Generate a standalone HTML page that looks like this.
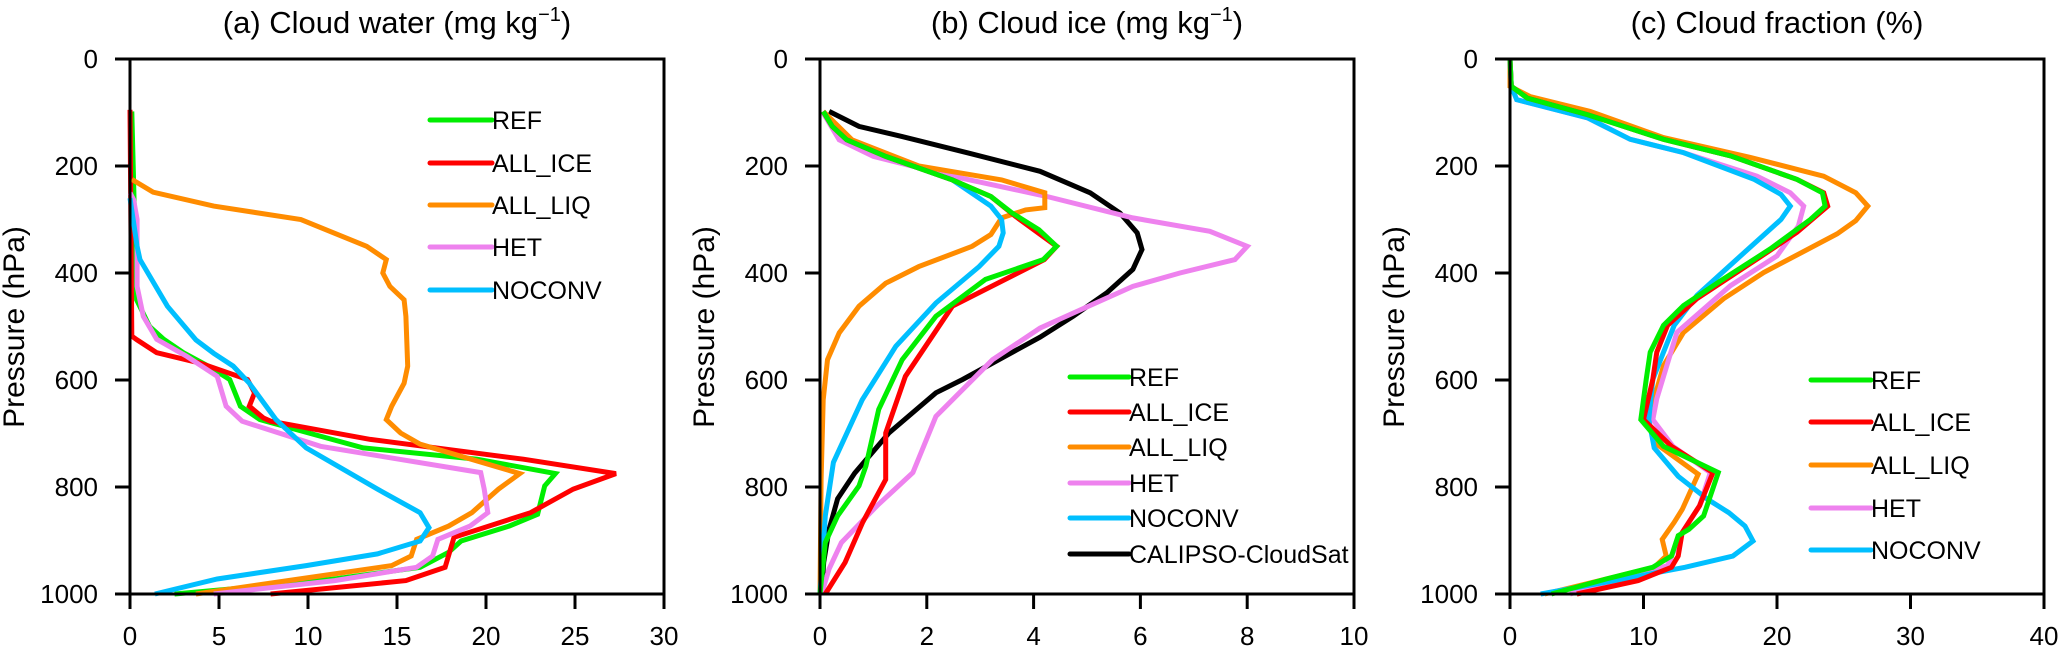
<!DOCTYPE html>
<html><head><meta charset="utf-8"><style>
html,body{margin:0;padding:0;background:#fff;}
svg{display:block;font-family:"Liberation Sans",Arial,sans-serif;}
</style></head><body>
<svg id="chart" width="2067" height="653" viewBox="0 0 2067 653" xmlns="http://www.w3.org/2000/svg"></svg>
<script>
// ---------- Data ----------
const seriesNames = ["REF","ALL_ICE","ALL_LIQ","HET","NOCONV","CALIPSO-CloudSat"];
const seriesColors = ["#00ee00","#ff0000","#ff8c00","#ee82ee","#00bfff","#000000"];
const yTicks = [0,200,400,600,800,1000];
const xTicksA = [0,5,10,15,20,25,30];
const xTicksB = [0,2,4,6,8,10];
const xTicksC = [0,10,20,30,40];

// Panel (a) cloud water
const aRefP = [98,450,500,524,549,574,599,649,674,727,748,775,798,851,873,901,922,950,972,991,1000];
const aRefV = [0.1,0.37,1.1,1.9,3,4.4,5.6,6.2,7.3,13.1,19.5,23.9,23.3,22.9,21.3,18.6,17.9,16.3,11.5,5.5,2.5];
const aIceP = [95,518,525,549,568,599,624,649,671,677,711,748,775,804,848,894,950,975,1000];
const aIceV = [0,0.1,0.4,1.5,3.9,6.6,7,6.7,7.5,7.9,13.5,22.1,27.3,24.9,22.5,18.2,17.7,15.5,7.9];
const aLiqP = [225,249,275,300,350,375,400,425,450,481,574,606,649,674,699,720,775,804,848,873,898,929,947,972,1000];
const aLiqV = [0.1,1.3,4.7,9.6,13.3,14.4,14.2,14.6,15.4,15.5,15.6,15.4,14.7,14.4,15.2,16.3,21.9,20.7,19.2,17.9,16.1,15.8,14.7,9.5,3.7];
const aHetP = [250,263,300,425,481,524,556,593,649,677,724,773,804,848,873,898,929,950,975,1000];
const aHetV = [0,0.2,0.4,0.4,0.75,1.5,3.2,4.9,5.4,6.3,10.7,19.7,19.9,20.1,19.1,17.3,17.0,16.1,11.5,4.7];
const aNocP = [260,350,375,462,525,550,574,606,674,727,804,848,876,901,925,947,972,1000];
const aNocV = [0,0.4,0.56,2.1,3.7,4.7,5.8,6.7,8.2,9.9,13.9,16.3,16.8,16.3,13.9,9.9,4.9,1.4];

// Panel (b) cloud ice
const bRefP = [98,126,151,182,226,257,288,319,350,375,412,481,562,655,761,798,854,904,1000];
const bRefV = [0.06,0.23,0.5,1.23,2.48,3.2,3.6,4.1,4.43,4.18,3.1,2.17,1.54,1.1,0.86,0.73,0.33,0.1,0];
const bIceP = [98,126,151,182,226,257,294,350,375,462,593,699,786,866,941,1000];
const bIceV = [0.06,0.23,0.5,1.23,2.48,3.2,3.66,4.43,4.2,2.48,1.6,1.23,1.23,0.8,0.47,0.1];
const bLiqP = [98,151,200,226,250,278,282,297,328,350,388,419,462,512,562,637,786,1000];
const bLiqV = [0.06,0.6,1.85,3.4,4.21,4.21,3.85,3.4,3.2,2.85,1.85,1.23,0.73,0.36,0.14,0.06,0.02,0];
const bHetP = [101,151,182,219,257,297,322,350,375,400,425,475,503,562,668,773,835,904,953,1000];
const bHetV = [0.06,0.36,1.0,2.48,4.25,5.86,7.3,8.0,7.77,6.74,5.86,4.74,4.12,3.23,2.17,1.74,1.07,0.4,0.17,0.03];
const bNocP = [98,126,151,182,226,275,300,325,350,388,456,537,637,754,854,1000];
const bNocV = [0.06,0.23,0.5,1.23,2.48,3.2,3.4,3.43,3.35,2.98,2.17,1.42,0.79,0.25,0.1,0];
const bObsP = [98,126,145,176,210,250,288,325,356,393,437,481,520,599,624,699,774,822,879,941,1000];
const bObsV = [0.17,0.73,1.54,2.79,4.12,5.06,5.62,5.94,6.03,5.86,5.37,4.74,4.12,2.67,2.17,1.29,0.65,0.33,0.17,0.07,0.03];

// Panel (c) cloud fraction
const cRefP = [0,51,73,104,150,181,225,250,275,300,355,411,461,498,548,599,674,724,773,854,879,891,929,950,972,1000];
const cRefV = [0,0.1,1.3,5.8,11.5,16.5,21.5,23.4,23.6,22.5,19.5,16,13,11.5,10.5,10.2,9.8,11.5,15.6,14.5,13.4,12.6,12.1,10.7,7.2,3.1];
const cIceP = [0,51,73,104,150,181,225,250,275,324,374,448,498,548,599,674,724,773,835,885,929,950,975,1000];
const cIceV = [0,0.1,1.3,5.8,11.5,16.5,21.5,23.5,23.8,21.5,18.5,14,11.8,11,10.7,10.0,12.1,15.2,14.2,12.9,12.6,12.1,9.6,5];
const cLiqP = [0,51,70,98,147,184,219,250,275,302,327,399,448,511,573,635,674,720,776,842,866,898,929,950,972,1000];
const cLiqV = [0,0,1.5,6.0,11.5,18,23.5,25.9,26.8,25.9,24.5,19,16,13,11.5,10.8,10.2,11,14.1,12.9,12.3,11.4,11.7,10.8,7.2,2.6];
const cHetP = [0,51,76,110,150,175,219,250,275,312,368,424,511,635,674,724,773,835,885,947,1000];
const cHetV = [0,0.1,0.5,5.8,9,13,18.5,21,22,21.6,20,16.5,12.5,11,10.7,12.2,15.0,14.2,12.9,11.8,4.5];
const cNocP = [0,51,76,110,150,175,225,253,275,300,374,442,498,548,599,674,727,780,823,848,873,901,929,950,978,1000];
const cNocV = [0,0.1,0.5,5.8,9,13,18.3,20.3,21,20.3,17,14,12.3,11.5,10.7,10.4,10.8,12.6,14.8,16.4,17.6,18.2,16.7,13.1,7.2,2.3];

// ---------- Drawing ----------
const svg = document.getElementById('chart');
const NS = 'http://www.w3.org/2000/svg';
const TOP = 59, BOT = 594, W = 534;
function mk(tag, attrs, parent) {
  const e = document.createElementNS(NS, tag);
  for (const k in attrs) e.setAttribute(k, attrs[k]);
  (parent || svg).appendChild(e);
  return e;
}
function yScale(p) { return TOP + (p / 1000) * (BOT - TOP); }

const panels = [
  {id:'a', x0:130, xmax:30, ticks:xTicksA, title:'(a) Cloud water (mg kg', sup:'−1', tail:')',
   series:[[aRefP,aRefV,0],[aIceP,aIceV,1],[aLiqP,aLiqV,2],[aHetP,aHetV,3],[aNocP,aNocV,4]],
   legend:{x1:430,x2:492,ys:[120,163,205,247,290]}},
  {id:'b', x0:820, xmax:10, ticks:xTicksB, title:'(b) Cloud ice (mg kg', sup:'−1', tail:')',
   series:[[bObsP,bObsV,5],[bHetP,bHetV,3],[bLiqP,bLiqV,2],[bNocP,bNocV,4],[bIceP,bIceV,1],[bRefP,bRefV,0]],
   legend:{x1:1070,x2:1129,ys:[377,412,447,483,518,554]}},
  {id:'c', x0:1510, xmax:40, ticks:xTicksC, title:'(c) Cloud fraction (%)', sup:'', tail:'',
   series:[[cLiqP,cLiqV,2],[cHetP,cHetV,3],[cNocP,cNocV,4],[cIceP,cIceV,1],[cRefP,cRefV,0]],
   legend:{x1:1811,x2:1871,ys:[380,422,465,508,550]}}
];

panels.forEach(pn => {
  const g = mk('g', {});
  
  
  const xs = v => pn.x0 + (v / pn.xmax) * W;

  // series
  pn.series.forEach(s => {
    const P = s[0], V = s[1], ci = s[2];
    const pts = P.map((p, i) => xs(V[i]).toFixed(1) + ',' + yScale(p).toFixed(1)).join(' ');
    const pl = mk('polyline', {points: pts, fill:'none', stroke: seriesColors[ci], 'stroke-width': 5, 'stroke-linejoin':'miter'}, g);
    
    
  });

  // frame
  const fr = mk('rect', {x: pn.x0, y: TOP, width: W, height: BOT - TOP, fill:'none', stroke:'#000', 'stroke-width': 3}, g);
  
  

  // y ticks
  yTicks.forEach(t => {
    const y = yScale(t);
    mk('line', {x1: pn.x0 - 15, x2: pn.x0, y1: y, y2: y, stroke:'#000', 'stroke-width': 3}, g);
    const tx = mk('text', {x: pn.x0 - 32, y: y + 9, 'font-size': 26, 'text-anchor':'end'}, g);
    tx.textContent = t;
    
    
  });
  // x ticks
  pn.ticks.forEach(t => {
    const x = xs(t);
    mk('line', {x1: x, x2: x, y1: BOT, y2: BOT + 15, stroke:'#000', 'stroke-width': 3}, g);
    const tx = mk('text', {x: x, y: 645, 'font-size': 26, 'text-anchor':'middle'}, g);
    tx.textContent = t;
    
    
  });

  // y-axis title
  const yt = mk('text', {x: 0, y: 0, 'font-size': 30, 'text-anchor':'middle', transform: 'translate(' + (pn.x0 - 106) + ',327) rotate(-90)'}, g);
  yt.textContent = 'Pressure (hPa)';
  
  

  // title
  const tt = mk('text', {x: pn.x0 + W/2, y: 33, 'font-size': 31, 'text-anchor':'middle'}, g);
  
  
  const t1 = mk('tspan', {}, tt); t1.textContent = pn.title;
  if (pn.sup) {
    const t2 = mk('tspan', {dy: -12, 'font-size': 20}, tt); t2.textContent = pn.sup;
    const t3 = mk('tspan', {dy: 12}, tt); t3.textContent = pn.tail;
  }

  // legend
  const lg = mk('g', {}, g);
  
  
  const order = pn.id === 'b' ? [0,1,2,3,4,5] : [0,1,2,3,4];
  order.forEach((ci, i) => {
    const y = pn.legend.ys[i];
    const e = mk('g', {}, lg);
    
    
    mk('line', {x1: pn.legend.x1, x2: pn.legend.x2, y1: y, y2: y, stroke: seriesColors[ci], 'stroke-width': 5, 'stroke-linecap':'round'}, e);
    const tx = mk('text', {x: pn.legend.x2, y: y + 9, 'font-size': 25}, e);
    tx.textContent = seriesNames[ci];
  });
});
</script>
</body></html>
